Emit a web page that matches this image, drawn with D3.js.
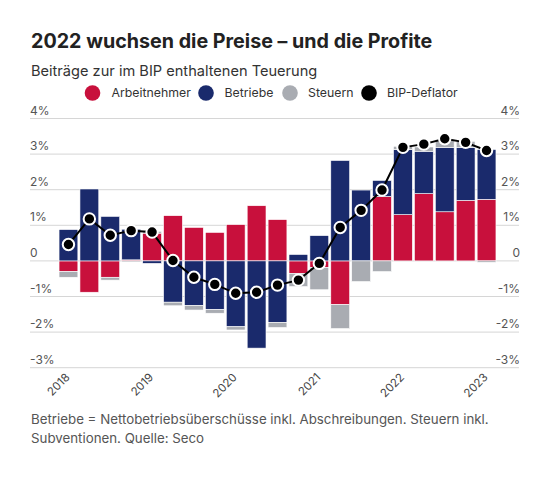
<!DOCTYPE html>
<html>
<head>
<meta charset="utf-8">
<script src="https://d3js.org/d3.v7.min.js"></script>
<style>
    body {margin: 0; background: #fff;}
    text {font-family: Inter, "Open Sans", sans-serif;}
</style>
</head>
<body>
<div id="chart"></div>
<script>
    // quarters 2018 Q1 .. 2023 Q1
    var quarters = ["2018Q1","2018Q2","2018Q3","2018Q4","2019Q1","2019Q2","2019Q3","2019Q4",
                    "2020Q1","2020Q2","2020Q3","2020Q4","2021Q1","2021Q2","2021Q3","2021Q4",
                    "2022Q1","2022Q2","2022Q3","2022Q4","2023Q1"];
    var arbeitnehmer = [-0.30,-0.88,-0.46, 0.03, 0.78, 1.27, 0.94, 0.80, 1.02, 1.55, 1.16,-0.35,
                        -0.18,-1.23, 0.00, 1.81, 1.30, 1.89, 1.38, 1.70, 1.73];
    var betriebe = [0.88, 2.02, 1.25, 0.86,-0.07,-1.16,-1.25,-1.37,-1.85,-2.45,-1.73, 0.18,
                    0.71, 2.82, 1.99, 0.45, 1.83, 1.19, 1.81, 1.49, 1.40];
    var steuern = [-0.16, 0.00,-0.08,-0.03, 0.05,-0.10,-0.13,-0.10,-0.09, 0.00,-0.14,-0.37,
                   -0.63,-0.67,-0.58,-0.30, 0.09, 0.12, 0.22, 0.17,-0.04];
    var deflator = [0.46, 1.18, 0.72, 0.85, 0.81, 0.01,-0.46,-0.66,-0.91,-0.88,-0.68,-0.54,
                    -0.07, 0.94, 1.42, 1.99, 3.19, 3.28, 3.43, 3.33, 3.10];
    var yTicks = [-3,-2,-1,0,1,2,3,4];
    var yearLabels = ["2018","2019","2020","2021","2022","2023"];

    var keys = ["Arbeitnehmer","Betriebe","Steuern"];
    var colors = {"Arbeitnehmer": "#c8103c", "Betriebe": "#1a2a6c", "Steuern": "#a9acb2", "BIP-Deflator": "#000"};

    var W = 550, H = 484;
    var svg = d3.select("#chart").append("svg")
        .attr("width", W).attr("height", H);

    // title and subtitle
    svg.append("text").attr("x", 31).attr("y", 48)
        .attr("font-size", 19.7).attr("font-weight", 700).attr("fill", "#222")
        .text("2022 wuchsen die Preise – und die Profite");
    svg.append("text").attr("x", 31).attr("y", 75.5)
        .attr("font-size", 14.6).attr("fill", "#333")
        .text("Beiträge zur im BIP enthaltenen Teuerung");

    // legend
    var legendItems = [
        {name: "Arbeitnehmer", cx: 92.5, tx: 111.5},
        {name: "Betriebe", cx: 206, tx: 224.5},
        {name: "Steuern", cx: 290, tx: 308},
        {name: "BIP-Deflator", cx: 369, tx: 387}
    ];
    var lg = svg.append("g");
    legendItems.forEach(function(d){
        lg.append("circle").attr("cx", d.cx).attr("cy", 93).attr("r", 7.8).attr("fill", colors[d.name]);
        lg.append("text").attr("x", d.tx).attr("y", 97.3).attr("font-size", 12.3).attr("fill", "#333").text(d.name);
    });

    var x = d3.scaleBand().domain(quarters).range([58, 497]).paddingInner(0.1).paddingOuter(0.05);
    var y = d3.scaleLinear().domain([-3, 4]).range([367.7, 118.5]);

    // grid and tick labels on both sides
    var grid = svg.append("g");
    yTicks.forEach(function(t){
        grid.append("line").attr("x1", 30).attr("x2", 519)
            .attr("y1", y(t)).attr("y2", y(t))
            .attr("stroke", "#d6d6d6").attr("stroke-width", 1);
        var lbl = t === 0 ? "0" : t + "%";
        grid.append("text").attr("x", 30).attr("y", y(t) - 4)
            .attr("font-size", 12).attr("fill", "#555").text(lbl);
        grid.append("text").attr("x", 520).attr("y", y(t) - 4).attr("text-anchor", "end")
            .attr("font-size", 12).attr("fill", "#555").text(lbl);
    });

    // stacked bars
    var rows = quarters.map(function(q, i){
        return {q: q, "Arbeitnehmer": arbeitnehmer[i], "Betriebe": betriebe[i], "Steuern": steuern[i]};
    });
    var series = d3.stack().keys(keys).offset(d3.stackOffsetDiverging)(rows);

    svg.append("g").selectAll("g")
        .data(series)
        .join("g")
        .attr("fill", function(d){ return colors[d.key]; })
        .selectAll("rect")
        .data(function(d){ return d; })
        .join("rect")
        .attr("x", function(d){ return x(d.data.q); })
        .attr("width", x.bandwidth())
        .attr("y", function(d){ return y(Math.max(d[0], d[1])); })
        .attr("height", function(d){ return Math.abs(y(d[0]) - y(d[1])); })
        .attr("stroke", "#fff").attr("stroke-width", 0.6);

    // x axis year labels at Q1 bars
    svg.append("g").selectAll("text")
        .data(yearLabels)
        .join("text")
        .attr("transform", function(d){
            var cx = x(d + "Q1") + x.bandwidth() / 2;
            return "translate(" + (cx + 2) + ",378) rotate(-45)";
        })
        .attr("text-anchor", "end")
        .attr("font-size", 11.5).attr("fill", "#444")
        .text(function(d){ return d; });

    // deflator line with dots
    var line = d3.line()
        .x(function(d, i){ return x(quarters[i]) + x.bandwidth() / 2; })
        .y(function(d){ return y(d); });
    svg.append("path").datum(deflator)
        .attr("fill", "none").attr("stroke", "#000").attr("stroke-width", 2)
        .attr("d", line);
    svg.append("g").selectAll("circle")
        .data(deflator)
        .join("circle")
        .attr("cx", function(d, i){ return x(quarters[i]) + x.bandwidth() / 2; })
        .attr("cy", function(d){ return y(d); })
        .attr("r", 5.7)
        .attr("fill", "#000").attr("stroke", "#fff").attr("stroke-width", 2);

    // footnote
    svg.append("text").attr("x", 31).attr("y", 424)
        .attr("font-size", 13.3).attr("fill", "#555")
        .text("Betriebe = Nettobetriebsüberschüsse inkl. Abschreibungen. Steuern inkl.");
    svg.append("text").attr("x", 31).attr("y", 443)
        .attr("font-size", 13.3).attr("fill", "#555")
        .text("Subventionen. Quelle: Seco");
</script>
</body>
</html>
